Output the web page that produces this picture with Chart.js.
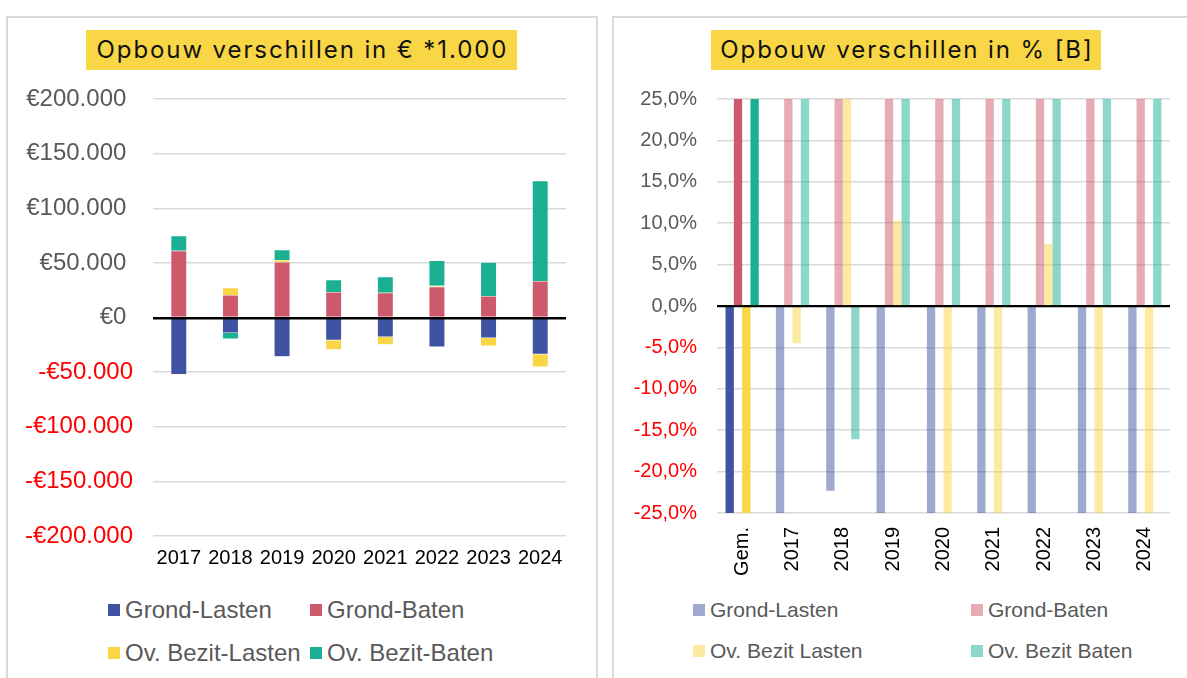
<!DOCTYPE html>
<html>
<head>
<meta charset="utf-8">
<script src="https://cdn.jsdelivr.net/npm/chart.js@4.4.1/dist/chart.umd.min.js"></script>
<style>
  body { margin: 0; width: 1187px; height: 678px; overflow: hidden; background: #fff; position: relative; font-family: "Liberation Sans", Arial, sans-serif; }
  .panel { position: absolute; top: 16px; height: 720px; border: 2px solid #d9d9d9; box-sizing: border-box; }
  .title { position: absolute; top: 30px; height: 40px; line-height: 40px; background: #f9d645; color: #111;
           font-family: Inter, "Open Sans", sans-serif; font-size: 24px; letter-spacing: 1.9px; text-indent: 1.9px;
           text-align: center; white-space: nowrap; }
  .wrap { position: absolute; top: 16px; }
  .lg { position: absolute; height: 28px; display: flex; align-items: center; color: #595959; white-space: nowrap; }
  .lg i { display: inline-block; width: 12px; height: 12px; margin-right: 5px; }
</style>
</head>
<body>
<div class="panel" style="left:6px;width:592px"></div>
<div class="panel" style="left:612px;width:600px"></div>

<div class="title" style="left:86px;width:431px">Opbouw verschillen in € *1.000</div>
<div class="title" style="left:711px;width:390px">Opbouw verschillen in % [B]</div>

<div class="wrap" style="left:7px;width:590px;height:570px"><canvas id="euro"></canvas></div>
<div class="wrap" style="left:613px;width:574px;height:574px"><canvas id="pct"></canvas></div>

<div id="legendEuro"></div>
<div id="legendPct"></div>

<script>
// left chart: stacked amounts per year
const years = ['2017', '2018', '2019', '2020', '2021', '2022', '2023', '2024'];
const grondLasten   = [-52100, -14100, -35900, -20900, -17800, -27000, -18700, -33700];
const grondBaten    = [61000, 20600, 50900, 23300, 22700, 28200, 19600, 33400];
const ovBezitLasten = [-900, 6700, 1800, -8600, -7100, 900, -7400, -11700];
const ovBezitBaten  = [13800, -5500, 9200, 11300, 14700, 23000, 31000, 91700];
const euroTicks = [-200000, -150000, -100000, -50000, 0, 50000, 100000, 150000, 200000];

// right chart: percentages (axis cut off at +/-25%)
const pctCats = ['Gem.', '2017', '2018', '2019', '2020', '2021', '2022', '2023', '2024'];
const pctGrondLasten   = [-41.0, -38.5, -22.3, -47.2, -36.0, -33.1, -40.4, -29.8, -44.6];
const pctGrondBaten    = [43.7, 51.2, 38.9, 47.5, 33.4, 36.1, 40.2, 29.6, 45.3];
const pctOvBezitLasten = [-31.5, -4.5, 28.4, 10.3, -52.0, -46.3, 7.5, -39.8, -61.2];
const pctOvBezitBaten  = [58.6, 71.4, -16.1, 34.7, 45.9, 62.3, 88.0, 96.5, 140.2];

const seriesNames = ['Grond-Lasten', 'Grond-Baten', 'Ov. Bezit-Lasten', 'Ov. Bezit-Baten'];
const pctNames = ['Grond-Lasten', 'Grond-Baten', 'Ov. Bezit Lasten', 'Ov. Bezit Baten'];
const colors = ['#3f53a2', '#cd5a6c', '#f9d645', '#1cb093'];
const lightColors = ['rgba(63,83,162,0.5)', 'rgba(205,90,108,0.5)', 'rgba(249,214,69,0.5)', 'rgba(28,176,147,0.5)'];

const grey = '#595959';
const font = 'Liberation Sans';

const dots = n => String(n).replace(/\B(?=(\d{3})+(?!\d))/g, '.');

// black zero line over the bars
const zeroLine = {
  id: 'zeroLine',
  afterDatasetsDraw(chart, args, opts) {
    const { ctx, chartArea, scales } = chart;
    const y = Math.round(scales.y.getPixelForValue(0)) + 0.5;
    ctx.save();
    ctx.strokeStyle = '#000';
    ctx.lineWidth = opts.width || 2;
    ctx.beginPath();
    ctx.moveTo(chartArea.left, y);
    ctx.lineTo(chartArea.right, y);
    ctx.stroke();
    ctx.restore();
  }
};

const gridColor = c => c.tick && c.tick.value === 0 ? '#000' : '#d9d9d9';

new Chart(document.getElementById('euro'), {
  type: 'bar',
  data: {
    labels: years,
    datasets: [grondLasten, grondBaten, ovBezitLasten, ovBezitBaten].map((d, i) => ({
      label: seriesNames[i],
      data: d,
      backgroundColor: colors[i],
      borderColor: 'rgba(255,255,255,0.5)',
      borderWidth: 0.5
    }))
  },
  options: {
    responsive: true,
    maintainAspectRatio: false,
    animation: false,
    layout: { padding: { top: 83, right: 31, left: 0, bottom: 0 } },
    datasets: { bar: { categoryPercentage: 0.31, barPercentage: 1 } },
    plugins: { legend: { display: false }, tooltip: { enabled: false }, zeroLine: { width: 2 } },
    scales: {
      x: {
        stacked: true,
        grid: { display: false, drawTicks: false },
        border: { display: false },
        ticks: { color: '#000', font: { family: font, size: 20 }, padding: 10, maxRotation: 0, autoSkip: false },
        afterFit: s => { s.height = 50; }
      },
      y: {
        stacked: true,
        min: -200000,
        max: 200000,
        afterBuildTicks: s => { s.ticks = euroTicks.map(v => ({ value: v })); },
        grid: { color: gridColor, lineWidth: 1.5, drawTicks: false },
        border: { display: false },
        ticks: {
          padding: 20,
          font: { family: font, size: 24 },
          color: c => c.tick.value < 0 ? '#ff0000' : grey,
          callback: v => v < 0 ? '-€' + dots(-v) : '€' + dots(v) + ' '
        },
        afterFit: s => { s.width = 146; }
      }
    }
  },
  plugins: [zeroLine]
});

new Chart(document.getElementById('pct'), {
  type: 'bar',
  data: {
    labels: pctCats,
    datasets: [pctGrondLasten, pctGrondBaten, pctOvBezitLasten, pctOvBezitBaten].map((d, i) => ({
      label: pctNames[i],
      data: d,
      backgroundColor: d.map((v, j) => j === 0 ? colors[i] : lightColors[i]),
      borderWidth: 0
    }))
  },
  options: {
    responsive: true,
    maintainAspectRatio: false,
    animation: false,
    layout: { padding: { top: 83, right: 17, left: 0, bottom: 0 } },
    datasets: { bar: { categoryPercentage: 0.66, barPercentage: 1 } },
    plugins: { legend: { display: false }, tooltip: { enabled: false }, zeroLine: { width: 1.5 } },
    scales: {
      x: {
        grid: { display: false, drawTicks: false },
        border: { display: false },
        ticks: { color: '#000', font: { family: font, size: 20 }, padding: 14, minRotation: 90, maxRotation: 90, autoSkip: false },
        afterFit: s => { s.height = 77; }
      },
      y: {
        min: -25,
        max: 25,
        grid: { color: gridColor, lineWidth: 1.5, drawTicks: false },
        border: { display: false },
        ticks: {
          stepSize: 5,
          padding: 20,
          font: { family: font, size: 20 },
          color: c => c.tick.value < 0 ? '#ff0000' : grey,
          callback: v => v.toFixed(1).replace('.', ',') + '%'
        },
        afterFit: s => { s.width = 104; }
      }
    }
  },
  plugins: [zeroLine]
});

// legends laid out in two columns like the original
function legend(el, names, boxColors, cols, rows, size) {
  names.forEach((n, i) => {
    const d = document.createElement('div');
    d.className = 'lg';
    d.style.left = cols[i % 2] + 'px';
    d.style.top = (rows[Math.floor(i / 2)] - 14) + 'px';
    d.style.fontSize = size + 'px';
    d.innerHTML = '<i style="background:' + boxColors[i] + '"></i>' + n;
    el.appendChild(d);
  });
}
legend(document.getElementById('legendEuro'), seriesNames, colors, [108, 310], [610, 653], 24);
legend(document.getElementById('legendPct'), pctNames, lightColors, [693, 971], [610, 651], 21);
</script>
</body>
</html>
